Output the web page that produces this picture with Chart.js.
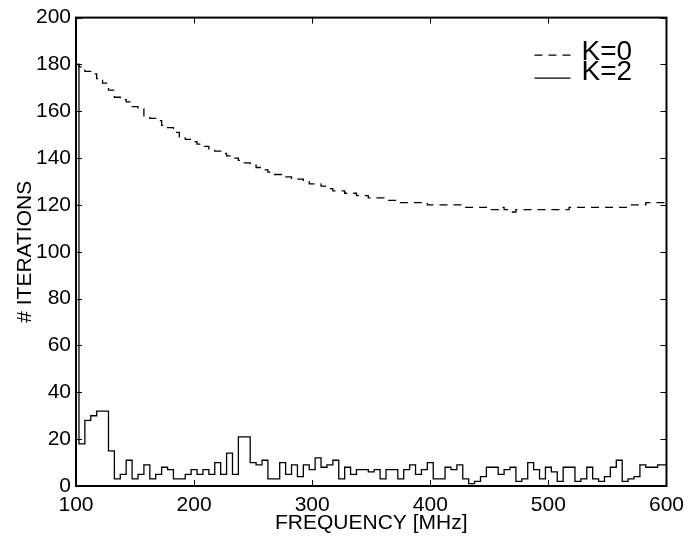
<!DOCTYPE html>
<html>
<head>
    <title># ITERATIONS vs FREQUENCY</title>
    <script src="https://cdn.jsdelivr.net/npm/chart.js@4.4.0/dist/chart.umd.min.js"></script>
    <style>
        body {
            margin: 0;
            background-color: #fff;
        }
        #iterChart {
            display: block;
        }
    </style>
</head>
<body>
<canvas id="iterChart" width="691" height="540"></canvas>
<script>
    // frequency of each step, MHz
    const freqMHz = [
        100, 105, 110, 115, 120, 125, 130, 135, 140, 145,
        150, 155, 160, 165, 170, 175, 180, 185, 190, 195,
        200, 205, 210, 215, 220, 225, 230, 235, 240, 245,
        250, 255, 260, 265, 270, 275, 280, 285, 290, 295,
        300, 305, 310, 315, 320, 325, 330, 335, 340, 345,
        350, 355, 360, 365, 370, 375, 380, 385, 390, 395,
        400, 405, 410, 415, 420, 425, 430, 435, 440, 445,
        450, 455, 460, 465, 470, 475, 480, 485, 490, 495,
        500, 505, 510, 515, 520, 525, 530, 535, 540, 545,
        550, 555, 560, 565, 570, 575, 580, 585, 590, 595,
        600
    ];

    // number of iterations, K=0
    const itersK0 = [
        180, 179, 177, 176, 174, 172, 169, 166, 165, 164,
        162, 161, 158, 157, 156, 154, 153, 151, 149, 148,
        147, 146, 145, 144, 143, 142, 141, 140, 139, 138,
        137, 136, 135, 134, 133, 133, 132, 131, 131, 130,
        129, 129, 128, 127, 126, 126, 125, 125, 124, 124,
        123, 123, 123, 122, 122, 121, 121, 121, 121, 121,
        120, 120, 120, 120, 120, 120, 119, 119, 119, 119,
        118, 118, 119, 118, 117, 118, 118, 118, 118, 118,
        118, 118, 118, 118, 119, 119, 119, 119, 119, 119,
        119, 119, 119, 119, 120, 120, 120, 121, 121, 121,
        121
    ];

    // number of iterations, K=2
    const itersK2 = [
        180, 18, 28, 30, 32, 32, 15, 3, 5, 11,
        3, 5, 9, 3, 5, 8, 7, 3, 3, 5,
        7, 5, 7, 5, 10, 5, 14, 5, 21, 21,
        10, 9, 11, 3, 3, 10, 5, 9, 4, 9,
        7, 12, 8, 9, 11, 3, 8, 5, 7, 7,
        6, 7, 3, 7, 7, 3, 7, 9, 5, 7,
        10, 3, 3, 8, 7, 9, 3, 1, 2, 4,
        8, 8, 5, 7, 8, 2, 3, 10, 7, 3,
        8, 6, 2, 8, 8, 2, 3, 8, 3, 2,
        4, 8, 11, 2, 3, 4, 9, 8, 8, 9,
        9
    ];

    const xTickValues = [100, 200, 300, 400, 500, 600];
    const yTickValues = [0, 20, 40, 60, 80, 100, 120, 140, 160, 180, 200];

    const fontFamily = '"Liberation Sans", Arial, Helvetica, sans-serif';
    const axisFont = {family: fontFamily, size: 21};

    function toPoints(ys) {
        return freqMHz.map((f, i) => ({x: f, y: ys[i]}));
    }

    // box round the plot with inward ticks on every side (matlab look)
    const boxFrame = {
        id: 'boxFrame',
        afterDatasetsDraw(chart) {
            const {ctx, chartArea: a, scales: {x, y}} = chart;
            const len = 6;
            ctx.save();
            ctx.strokeStyle = '#000';
            ctx.lineWidth = 1;
            ctx.beginPath();
            x.ticks.forEach(t => {
                const px = Math.round(x.getPixelForValue(t.value)) + 0.5;
                ctx.moveTo(px, a.bottom);
                ctx.lineTo(px, a.bottom - len);
                ctx.moveTo(px, a.top);
                ctx.lineTo(px, a.top + len);
            });
            y.ticks.forEach(t => {
                const py = Math.round(y.getPixelForValue(t.value)) + 0.5;
                ctx.moveTo(a.left, py);
                ctx.lineTo(a.left + len, py);
                ctx.moveTo(a.right, py);
                ctx.lineTo(a.right - len, py);
            });
            ctx.stroke();
            ctx.lineWidth = 2;
            ctx.strokeRect(a.left, a.top, a.right - a.left, a.bottom - a.top);
            ctx.restore();
        }
    };

    // legend inside the top right corner
    const cornerLegend = {
        id: 'cornerLegend',
        afterDraw(chart) {
            const {ctx, chartArea: a} = chart;
            ctx.save();
            ctx.font = '28px ' + fontFamily;
            ctx.fillStyle = '#000';
            ctx.textBaseline = 'alphabetic';
            chart.data.datasets.forEach((ds, i) => {
                const base = a.top + 42.5 + i * 20;
                ctx.strokeStyle = ds.borderColor;
                ctx.lineWidth = ds.borderWidth;
                ctx.setLineDash(ds.borderDash || []);
                ctx.beginPath();
                ctx.moveTo(a.right - 132, base - 5 + i * 3);
                ctx.lineTo(a.right - 96, base - 5 + i * 3);
                ctx.stroke();
                ctx.setLineDash([]);
                ctx.fillText(ds.label, a.right - 85, base);
            });
            ctx.restore();
        }
    };

    const chart = new Chart('iterChart', {
        type: 'line',
        data: {
            datasets: [{
                label: 'K=0',
                data: toPoints(itersK0),
                borderColor: '#000',
                borderWidth: 1.3,
                borderDash: [8, 6],
                stepped: 'middle',
                pointRadius: 0,
                fill: false
            }, {
                label: 'K=2',
                data: toPoints(itersK2),
                borderColor: '#000',
                borderWidth: 1.3,
                stepped: 'middle',
                pointRadius: 0,
                fill: false
            }]
        },
        options: {
            responsive: false,
            animation: false,
            devicePixelRatio: 1,
            layout: {padding: {left: 0, right: 19, top: 16, bottom: 0}},
            plugins: {
                legend: {display: false},
                tooltip: {enabled: false}
            },
            scales: {
                x: {
                    type: 'linear',
                    min: 100,
                    max: 600,
                    afterBuildTicks: s => { s.ticks = xTickValues.map(v => ({value: v})); },
                    afterFit: s => { s.height = 54; },
                    ticks: {font: axisFont, color: '#000', padding: 7, maxRotation: 0},
                    grid: {display: false, drawTicks: false},
                    border: {display: false},
                    title: {
                        display: true,
                        text: 'FREQUENCY [MHz]',
                        font: axisFont,
                        color: '#000',
                        padding: {top: 0, bottom: 4}
                    }
                },
                y: {
                    min: 0,
                    max: 200,
                    afterBuildTicks: s => { s.ticks = yTickValues.map(v => ({value: v})); },
                    afterFit: s => { s.width = 76; },
                    ticks: {font: axisFont, color: '#000', padding: 5},
                    grid: {display: false, drawTicks: false},
                    border: {display: false},
                    title: {
                        display: true,
                        text: '# ITERATIONS',
                        font: axisFont,
                        color: '#000',
                        padding: {top: 13, bottom: 0}
                    }
                }
            }
        },
        plugins: [boxFrame, cornerLegend]
    });
</script>
</body>
</html>
